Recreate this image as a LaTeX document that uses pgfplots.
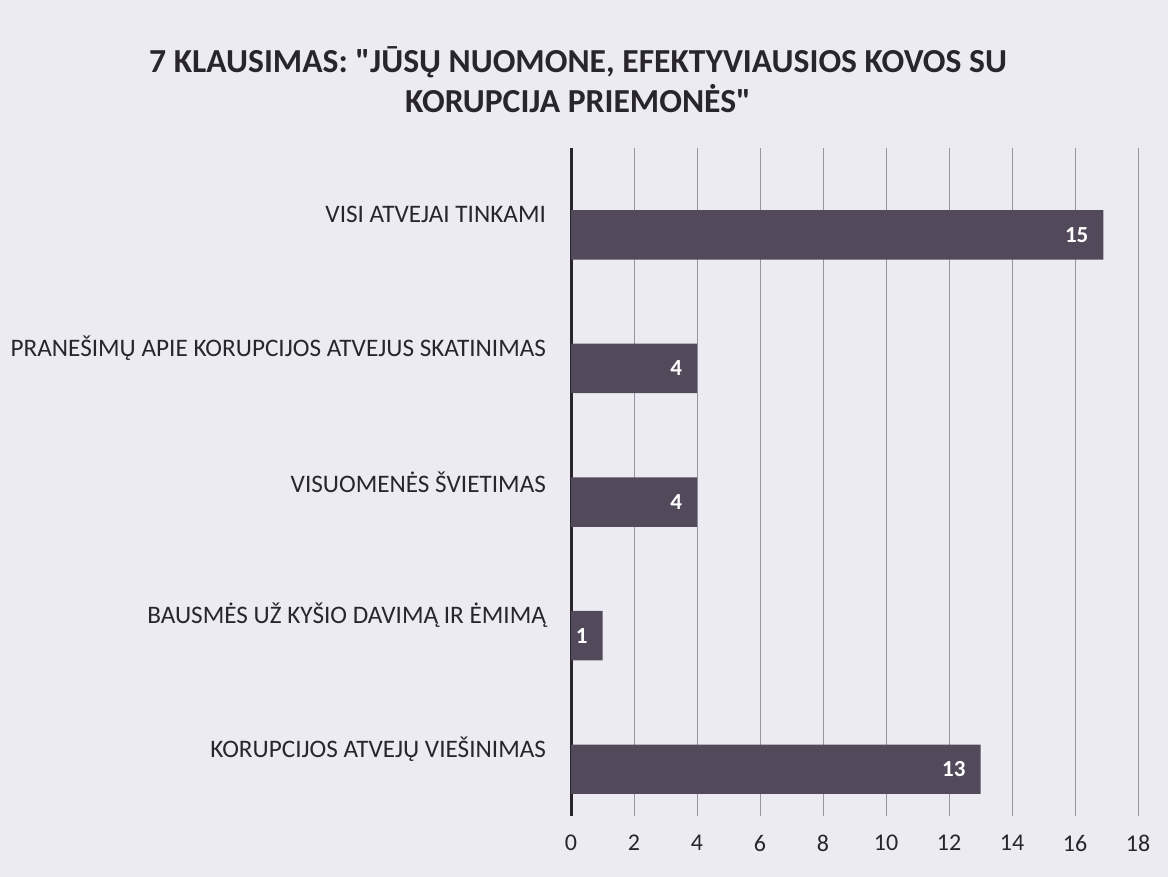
\documentclass[border=0pt]{standalone}
\usepackage{fontspec}
\setmainfont{Carlito}
\newfontfamily\plainfont{Carlito}
\usepackage{pgfplots}
\pgfplotsset{compat=1.18}
\usepackage{pgfplotstable}

\definecolor{bg}{RGB}{237,235,242}
\definecolor{barcol}{RGB}{82,74,90}
\definecolor{gridcol}{RGB}{150,148,160}
\definecolor{txt}{RGB}{40,38,44}

% y = category index, top to bottom
\pgfplotstableread{
x    y  lab
16.9 0  15
4    1  4
4    2  4
1    3  1
13   4  13
}\answers

\begin{document}
\begin{tikzpicture}
\fill[bg] (0,0) rectangle (584bp,438.5bp);
\node[font=\plainfont\bfseries\fontsize{16.8bp}{20bp}\selectfont, text=txt, align=center]
  at (289bp,398.5bp) {7 KLAUSIMAS: "JŪSŲ NUOMONE, EFEKTYVIAUSIOS KOVOS SU\\KORUPCIJA PRIEMONĖS"};
\begin{axis}[
  at={(285.5bp,30.5bp)}, anchor=south west,
  scale only axis,
  width=283.5bp, height=334bp,
  xbar, bar width=0.37, bar shift=0.15,
  y dir=reverse,
  xmin=0, xmax=18,
  ymin=-0.5, ymax=4.5,
  xtick={0,2,...,18},
  ytick={0,1,2,3,4},
  yticklabels={VISI ATVEJAI TINKAMI,
    PRANEŠIMŲ APIE KORUPCIJOS ATVEJUS SKATINIMAS,
    VISUOMENĖS ŠVIETIMAS,
    BAUSMĖS UŽ KYŠIO DAVIMĄ IR ĖMIMĄ,
    KORUPCIJOS ATVEJŲ VIEŠINIMAS},
  axis line style={draw=none},
  major tick length=0pt,
  xmajorgrids,
  grid style={gridcol, line width=0.5bp},
  extra x ticks={0},
  extra x tick labels={},
  extra x tick style={grid style={txt, line width=1.5bp}},
  tick label style={text=txt},
  xticklabel style={font=\fontsize{12bp}{14bp}\selectfont, yshift=-6bp},
  yticklabel style={font=\fontsize{12.6bp}{14bp}\selectfont, xshift=-9bp},
  /pgf/number format/assume math mode=true,
  point meta=explicit symbolic,
  nodes near coords,
  nodes near coords style={anchor=east, xshift=-4bp, text=white,
    font=\bfseries\fontsize{11.5bp}{13bp}\selectfont},
]
\addplot[fill=barcol, draw=none] table[x=x, y=y, meta=lab] {\answers};
\end{axis}
\end{tikzpicture}
\end{document}
